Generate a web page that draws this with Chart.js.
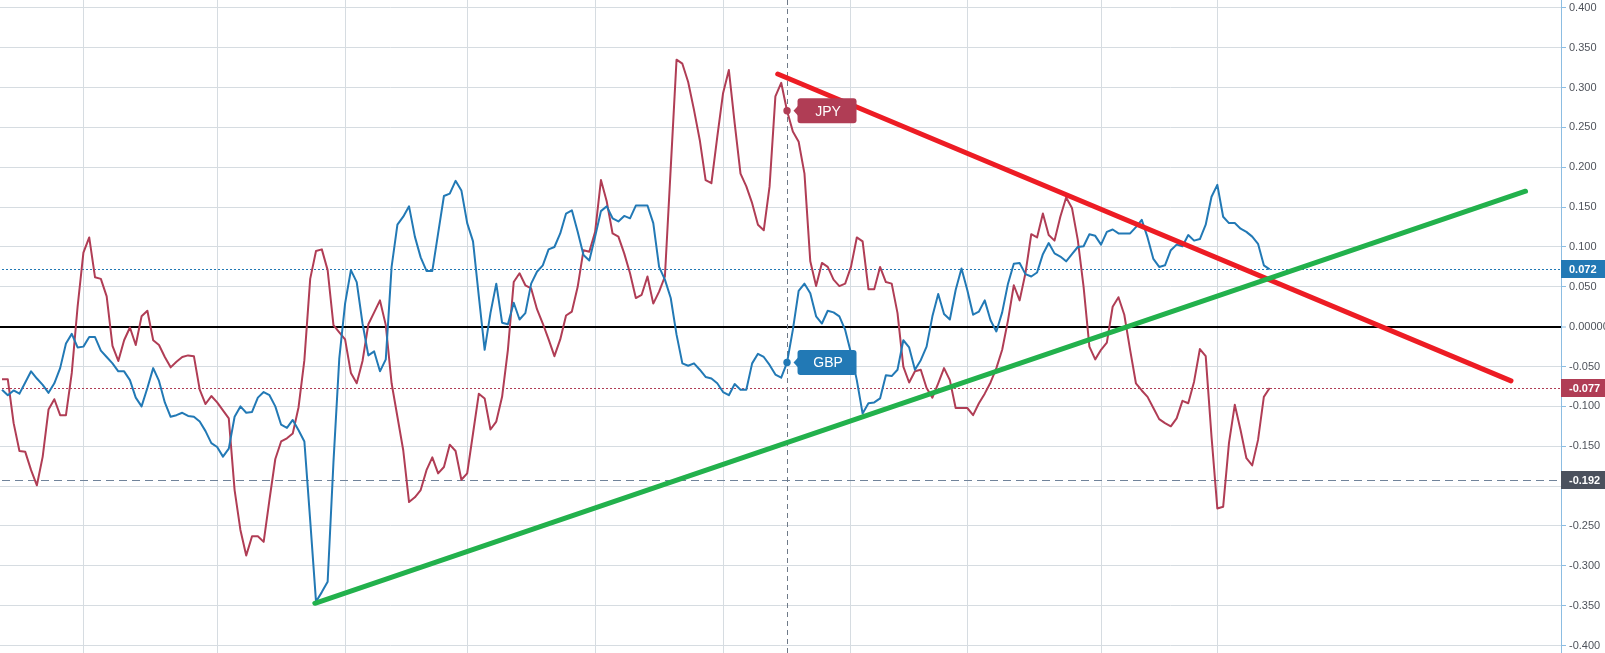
<!DOCTYPE html>
<html>
<head>
<meta charset="utf-8">
<script src="https://cdn.jsdelivr.net/npm/chart.js@4.4.1/dist/chart.umd.min.js"></script>
<style>
  html, body { margin: 0; padding: 0; background: #fff; overflow: hidden; }
  canvas { display: block; }
</style>
</head>
<body>
<canvas id="chart" width="1605" height="653"></canvas>
<script>
// Series, one value per trading day (index 0..218)
const JPY = [
  -0.066, -0.066, -0.121, -0.156, -0.157, -0.180, -0.199, -0.163, -0.104, -0.091,
  -0.111, -0.111, -0.058, 0.025, 0.093, 0.112, 0.062, 0.060, 0.038, -0.024,
  -0.043, -0.017, -0.001, -0.023, 0.013, 0.020, -0.017, -0.023, -0.038, -0.051,
  -0.044, -0.038, -0.036, -0.037, -0.079, -0.097, -0.087, -0.095, -0.105, -0.115,
  -0.205, -0.255, -0.287, -0.263, -0.263, -0.270, -0.217, -0.166, -0.144, -0.140,
  -0.134, -0.101, -0.042, 0.060, 0.095, 0.097, 0.071, 0.002, -0.007, -0.016,
  -0.058, -0.071, -0.043, 0.003, 0.018, 0.033, 0.002, -0.071, -0.113, -0.155,
  -0.220, -0.214, -0.205, -0.180, -0.164, -0.184, -0.176, -0.148, -0.156, -0.192,
  -0.184, -0.134, -0.084, -0.090, -0.129, -0.119, -0.088, -0.029, 0.056, 0.067,
  0.052, 0.048, 0.022, 0.004, -0.016, -0.037, -0.016, 0.014, 0.019, 0.050,
  0.096, 0.094, 0.119, 0.184, 0.157, 0.117, 0.113, 0.092, 0.067, 0.036,
  0.040, 0.063, 0.029, 0.044, 0.063, 0.199, 0.335, 0.330, 0.307, 0.272,
  0.234, 0.184, 0.180, 0.238, 0.293, 0.322, 0.255, 0.192, 0.176, 0.155,
  0.128, 0.121, 0.176, 0.289, 0.306, 0.271, 0.245, 0.232, 0.192, 0.082,
  0.051, 0.080, 0.075, 0.059, 0.051, 0.054, 0.075, 0.112, 0.107, 0.047,
  0.047, 0.075, 0.056, 0.054, 0.017, -0.050, -0.070, -0.056, -0.054, -0.077,
  -0.089, -0.071, -0.052, -0.067, -0.102, -0.102, -0.102, -0.111, -0.096, -0.084,
  -0.070, -0.052, -0.029, 0.008, 0.052, 0.033, 0.067, 0.116, 0.112, 0.142,
  0.115, 0.108, 0.138, 0.162, 0.149, 0.109, 0.050, -0.025, -0.041, -0.029,
  -0.020, 0.025, 0.037, 0.015, -0.029, -0.071, -0.080, -0.088, -0.102, -0.116,
  -0.121, -0.125, -0.115, -0.093, -0.096, -0.069, -0.028, -0.037, -0.138, -0.228,
  -0.226, -0.146, -0.098, -0.130, -0.165, -0.174, -0.142, -0.088, -0.077
];

const GBP = [
  -0.079, -0.086, -0.080, -0.084, -0.070, -0.056, -0.065, -0.073, -0.083, -0.071,
  -0.052, -0.021, -0.009, -0.026, -0.025, -0.013, -0.013, -0.030, -0.038, -0.046,
  -0.056, -0.056, -0.067, -0.089, -0.100, -0.077, -0.052, -0.068, -0.095, -0.113,
  -0.111, -0.108, -0.112, -0.113, -0.119, -0.131, -0.146, -0.151, -0.163, -0.153,
  -0.113, -0.100, -0.108, -0.107, -0.089, -0.082, -0.086, -0.100, -0.123, -0.127,
  -0.117, -0.130, -0.144, -0.243, -0.345, -0.333, -0.320, -0.170, -0.040, 0.029,
  0.071, 0.056, 0.004, -0.036, -0.031, -0.056, -0.041, 0.075, 0.128, 0.138,
  0.151, 0.113, 0.087, 0.070, 0.070, 0.117, 0.164, 0.167, 0.183, 0.171,
  0.130, 0.107, 0.038, -0.029, 0.017, 0.054, 0.005, 0.003, 0.030, 0.009,
  0.017, 0.054, 0.069, 0.077, 0.097, 0.100, 0.117, 0.142, 0.146, 0.119,
  0.090, 0.083, 0.113, 0.145, 0.151, 0.136, 0.132, 0.139, 0.136, 0.152,
  0.152, 0.152, 0.130, 0.075, 0.059, 0.036, -0.010, -0.046, -0.049, -0.046,
  -0.054, -0.063, -0.065, -0.071, -0.082, -0.086, -0.072, -0.079, -0.079, -0.046,
  -0.034, -0.038, -0.048, -0.060, -0.064, -0.045, -0.004, 0.045, 0.054, 0.042,
  0.013, 0.004, 0.020, 0.018, 0.013, -0.004, -0.033, -0.067, -0.109, -0.096,
  -0.095, -0.090, -0.061, -0.062, -0.054, -0.017, -0.026, -0.054, -0.042, -0.025,
  0.013, 0.041, 0.016, 0.009, 0.046, 0.073, 0.046, 0.015, 0.019, 0.033,
  0.008, -0.006, 0.018, 0.054, 0.079, 0.080, 0.066, 0.063, 0.068, 0.091,
  0.105, 0.092, 0.088, 0.082, 0.091, 0.100, 0.101, 0.116, 0.114, 0.103,
  0.119, 0.122, 0.117, 0.117, 0.117, 0.125, 0.134, 0.112, 0.085, 0.075,
  0.077, 0.096, 0.103, 0.101, 0.115, 0.108, 0.110, 0.128, 0.163, 0.178,
  0.138, 0.130, 0.130, 0.123, 0.119, 0.113, 0.104, 0.077, 0.072
];

// Hand-drawn trend lines (day index, value)
const DOWN_TREND_X = [133.4, 259.5];
const DOWN_TREND_Y = [0.317, -0.068];
const UP_TREND_X = [53.8, 262.0];
const UP_TREND_Y = [-0.347, 0.170];

// Horizontal price levels: last GBP, last JPY, marked level
const LEVELS = [0.072, -0.077, -0.192];
const CROSS_INDEX = 135;

// Axes
const Y_TICKS = [0.4, 0.35, 0.3, 0.25, 0.2, 0.15, 0.1, 0.05, 0, -0.05, -0.1, -0.15, -0.2, -0.25, -0.3, -0.35, -0.4];
const X_GRID = [14, 37, 59, 80, 102, 124, 146, 166, 189, 209];
const X_MIN = -0.344, X_MAX = 268.1;
const Y_MIN = -0.4094, Y_MAX = 0.4099;

const C = {
  blue: '#2279b5',
  red: '#b03d55',
  gray: '#4b515d',
  trendRed: '#ed1c24',
  trendGreen: '#22b14c',
  grid: '#d6dce1',
  axis: '#8cbde2',
  text: '#4f535b'
};
const FONT = "'Liberation Sans', Arial, sans-serif";
const LEVEL_STYLE = [
  { color: C.blue, dash: [2, 2] },
  { color: C.red, dash: [2, 2] },
  { color: C.gray, line: '#70839a', dash: [8, 5] }
];

const pts = (xs, ys) => xs.map((x, i) => ({ x, y: ys[i] }));
const series = arr => arr.map((v, i) => ({ x: i, y: v }));

function drawTag(ctx, x, y, text, color) {
  const left = x + 10.5, w = 59, h = 25;
  ctx.fillStyle = color;
  ctx.beginPath();
  ctx.roundRect(left, y - h / 2, w, h, 3);
  ctx.fill();
  ctx.beginPath();
  ctx.moveTo(x + 6.5, y);
  ctx.lineTo(left + 1, y - 5.5);
  ctx.lineTo(left + 1, y + 5.5);
  ctx.closePath();
  ctx.fill();
  ctx.beginPath();
  ctx.arc(x, y, 3.7, 0, Math.PI * 2);
  ctx.fill();
  ctx.fillStyle = '#fff';
  ctx.font = '14px ' + FONT;
  ctx.textAlign = 'center';
  ctx.textBaseline = 'middle';
  ctx.fillText(text, left + w / 2 + 1, y + 1);
}

const overlay = {
  id: 'overlay',
  beforeDatasetsDraw(chart) {
    const { ctx, chartArea: a, scales: { y } } = chart;
    ctx.save();
    ctx.lineWidth = 1;
    LEVELS.forEach((v, i) => {
      const s = LEVEL_STYLE[i];
      const py = Math.round(y.getPixelForValue(v)) + 0.5;
      ctx.strokeStyle = s.line || s.color;
      ctx.setLineDash(s.dash);
      ctx.beginPath();
      ctx.moveTo(a.left + 2, py);
      ctx.lineTo(a.right, py);
      ctx.stroke();
    });
    // crosshair at the hovered day
    const cx = Math.round(chart.getDatasetMeta(3).data[CROSS_INDEX].x) + 0.5;
    ctx.strokeStyle = '#6f7a88';
    ctx.setLineDash([5, 4]);
    ctx.beginPath();
    ctx.moveTo(cx, a.top);
    ctx.lineTo(cx, a.bottom);
    ctx.stroke();
    ctx.restore();
  },
  afterDatasetsDraw(chart) {
    const { ctx } = chart;
    const jp = chart.getDatasetMeta(3).data[CROSS_INDEX];
    const gb = chart.getDatasetMeta(2).data[CROSS_INDEX];
    ctx.save();
    drawTag(ctx, jp.x, jp.y, 'JPY', C.red);
    drawTag(ctx, gb.x, gb.y, 'GBP', C.blue);
    ctx.restore();
  },
  afterDraw(chart) {
    const { ctx, chartArea: a, scales: { y } } = chart;
    ctx.save();
    LEVELS.forEach((v, i) => {
      const py = y.getPixelForValue(v);
      ctx.fillStyle = LEVEL_STYLE[i].color;
      ctx.fillRect(a.right, Math.round(py - 9), chart.width - a.right, 18);
      ctx.fillStyle = '#fff';
      ctx.font = 'bold 11px ' + FONT;
      ctx.textAlign = 'left';
      ctx.textBaseline = 'middle';
      ctx.fillText(v.toFixed(3), a.right + 8, py + 1);
    });
    ctx.restore();
  }
};

new Chart(document.getElementById('chart'), {
  type: 'line',
  data: {
    datasets: [
      { data: pts(UP_TREND_X, UP_TREND_Y), borderColor: C.trendGreen, borderWidth: 5, borderCapStyle: 'round', order: 0 },
      { data: pts(DOWN_TREND_X, DOWN_TREND_Y), borderColor: C.trendRed, borderWidth: 5, borderCapStyle: 'round', order: 0 },
      { label: 'GBP', data: series(GBP), borderColor: C.blue, borderWidth: 2, order: 1 },
      { label: 'JPY', data: series(JPY), borderColor: C.red, borderWidth: 2, order: 2 }
    ]
  },
  options: {
    responsive: false,
    animation: false,
    devicePixelRatio: 1,
    layout: { padding: 0 },
    plugins: { legend: { display: false }, tooltip: { enabled: false } },
    elements: { point: { radius: 0 }, line: { tension: 0, borderJoinStyle: 'round' } },
    scales: {
      x: {
        type: 'linear', min: X_MIN, max: X_MAX,
        afterBuildTicks: s => { s.ticks = X_GRID.map(v => ({ value: v })); },
        ticks: { display: false },
        grid: { color: C.grid, drawTicks: false },
        border: { display: false },
        afterFit: s => { s.height = 0; s.paddingLeft = 0; s.paddingRight = 0; }
      },
      y: {
        position: 'right', min: Y_MIN, max: Y_MAX,
        afterBuildTicks: s => { s.ticks = Y_TICKS.map(v => ({ value: v })); },
        ticks: {
          color: C.text, padding: 3,
          font: { family: FONT, size: 11 },
          callback: v => v === 0 ? '0.00000' : v.toFixed(3)
        },
        grid: {
          color: c => c.tick && c.tick.value === 0 ? '#000' : C.grid,
          lineWidth: c => c.tick && c.tick.value === 0 ? 2 : 1,
          tickColor: C.axis, tickWidth: 1, tickLength: 5
        },
        border: { color: C.axis },
        afterFit: s => { s.width = 44; s.paddingTop = 0; s.paddingBottom = 0; }
      }
    }
  },
  plugins: [overlay]
});
</script>
</body>
</html>
